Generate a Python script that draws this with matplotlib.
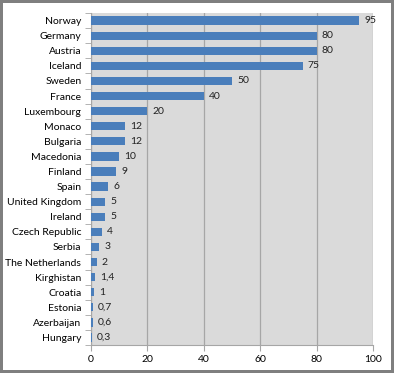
import numpy as np
import matplotlib.pyplot as plt

countries = ['Norway', 'Germany', 'Austria', 'Iceland', 'Sweden', 'France',
             'Luxembourg', 'Monaco', 'Bulgaria', 'Macedonia', 'Finland', 'Spain',
             'United Kingdom', 'Ireland', 'Czech Republic', 'Serbia',
             'The Netherlands', 'Kirghistan', 'Croatia', 'Estonia', 'Azerbaijan',
             'Hungary']
values = [95, 80, 80, 75, 50, 40, 20, 12, 12, 10, 9, 6, 5, 5, 4, 3, 2, 1.4, 1,
          0.7, 0.6, 0.3]
labels = ['95', '80', '80', '75', '50', '40', '20', '12', '12', '10', '9', '6',
          '5', '5', '4', '3', '2', '1,4', '1', '0,7', '0,6', '0,3']

plt.rcParams['font.family'] = ['Lato', 'DejaVu Sans']

fig = plt.figure(figsize=(3.94, 3.73), dpi=100)
fig.patch.set_facecolor('white')
fig.patch.set_edgecolor('#7f7f7f')
fig.patch.set_linewidth(3)

ax = fig.add_axes([0.231, 0.075, 0.716, 0.89])
ax.set_facecolor('#dadada')

y = np.arange(len(countries))
ax.barh(y, values, height=0.55, color='#4a7ebb', zorder=3)
for yi, v, lab in zip(y, values, labels):
    ax.text(v + 1.8, yi, lab, va='center', ha='left', fontsize=7.5, color='#222222')

ax.set_xlim(0, 100)
ax.set_ylim(len(countries) - 0.5, -0.5)
ax.set_xticks([0, 20, 40, 60, 80, 100])
ax.xaxis.grid(True, color='#a6a6a6', linewidth=0.9, zorder=1)
ax.set_axisbelow(True)

ax.set_yticks(y)
ax.set_yticklabels(countries, fontsize=7.5)
ax.set_yticks(np.arange(len(countries) + 1) - 0.5, minor=True)
ax.tick_params(axis='y', which='major', length=0, pad=7)
ax.tick_params(axis='y', which='minor', length=4, color='#a6a6a6', direction='out')
ax.tick_params(axis='x', length=4, color='#a6a6a6', labelsize=7.5, pad=3)

for s in ['top', 'right']:
    ax.spines[s].set_visible(False)
ax.spines['left'].set_color('#a6a6a6')
ax.spines['bottom'].set_color('#a6a6a6')

fig.savefig('out.png', dpi=100)
